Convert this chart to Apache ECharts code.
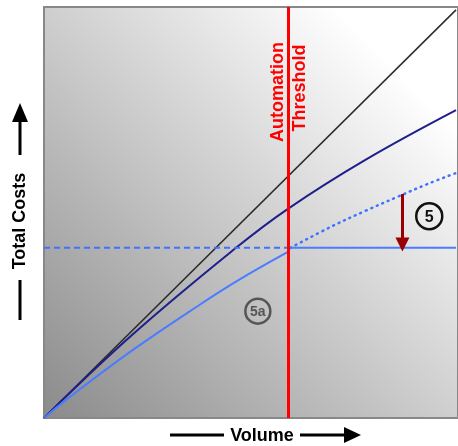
<!DOCTYPE html>
<html>
<head>
<meta charset="utf-8">
<script src="https://cdn.jsdelivr.net/npm/echarts@6/dist/echarts.min.js"></script>
<style>
  html, body { margin: 0; padding: 0; background: #fff; }
  #chart { width: 458px; height: 446px; }
</style>
</head>
<body>
<div id="chart"></div>
<script>
// 数据（坐标单位：0~100）
var thresholdX = 59.2;
var flatLevel = 41.4;

var manualX = [0, 100];
var manualY = [0, 99.3];

var currentX = [0, 21.5, 46.6, 59.2, 78, 100];
var currentY = [0, 20.3, 41.4, 50.9, 62.8, 74.9];

var automatedX = [0, 5.6, 21.5, 37.7, 47.3, 59.2];
var automatedY = [0, 4.6, 16.5, 27.5, 33.6, 40.4];

var flatX = [59.8, 100];
var flatY = [flatLevel, flatLevel];

var dashedX = [0, thresholdX];
var dashedY = [flatLevel, flatLevel];

var dottedX = [59.8, 69.8, 78, 86, 93, 100];
var dottedY = [flatLevel, 46.6, 50.4, 53.9, 56.9, 59.6];

var arrowX = 87;
var arrowTop = 54.5;
var arrowBottom = 42.2;

var circle5 = [93.5, 49.1];
var circle5a = [51.9, 26];

function pairs(xs, ys) {
    return xs.map(function (x, i) { return [x, ys[i]]; });
}

var chart = echarts.init(document.getElementById('chart'));

var option = {
    animation: false,
    grid: {
        left: 44, top: 7, width: 416, height: 411,
        show: true,
        borderColor: '#888',
        borderWidth: 2,
        backgroundColor: new echarts.graphic.LinearGradient(0, 1, 1, 0, [
            { offset: 0, color: '#8a8a8a' },
            { offset: 0.85, color: '#ffffff' },
            { offset: 1, color: '#ffffff' }
        ])
    },
    xAxis: {
        type: 'value', min: 0, max: 100.48,
        axisLine: { show: false }, axisTick: { show: false },
        axisLabel: { show: false }, splitLine: { show: false }
    },
    yAxis: {
        type: 'value', min: 0, max: 100,
        axisLine: { show: false }, axisTick: { show: false },
        axisLabel: { show: false }, splitLine: { show: false }
    },
    series: [
        {
            // 手工成本
            type: 'line', data: pairs(manualX, manualY), symbol: 'none',
            lineStyle: { color: '#2a2a2a', width: 1.5 }
        },
        {
            // 现有成本
            type: 'line', data: pairs(currentX, currentY), symbol: 'none', smooth: 0.4,
            lineStyle: { color: '#1e1e8c', width: 2 }
        },
        {
            type: 'line', data: pairs(dottedX, dottedY), symbol: 'none', smooth: 0.4,
            lineStyle: { color: '#3f72ff', width: 2.5, type: [1, 5], cap: 'round' }
        },
        {
            type: 'line', data: pairs(dashedX, dashedY), symbol: 'none',
            lineStyle: { color: '#3f72ff', width: 2, type: [6, 4] }
        },
        {
            // 自动化成本
            type: 'line', data: pairs(automatedX, automatedY), symbol: 'none', smooth: 0.4,
            lineStyle: { color: '#4a7cff', width: 2 }
        },
        {
            type: 'line', data: pairs(flatX, flatY), symbol: 'none',
            lineStyle: { color: '#4a7cff', width: 2 },
            markLine: {
                silent: true, symbol: 'none', label: { show: false },
                lineStyle: { color: '#ff0000', width: 3, type: 'solid' },
                data: [{ xAxis: thresholdX }]
            }
        },
        {
            // 下降箭头
            type: 'line', data: [], symbol: 'none',
            markLine: {
                silent: true, symbol: ['none', 'triangle'], symbolSize: [14, 14],
                label: { show: false },
                lineStyle: { color: '#990000', width: 3, type: 'solid' },
                data: [[{ coord: [arrowX, arrowTop] }, { coord: [arrowX, arrowBottom] }]]
            }
        }
    ]
};
chart.setOption(option);

var th = chart.convertToPixel({ gridIndex: 0 }, [thresholdX, 100]);
var p5 = chart.convertToPixel({ gridIndex: 0 }, circle5);
var p5a = chart.convertToPixel({ gridIndex: 0 }, circle5a);
var titleFont = 'bold 18px "Liberation Sans", Arial, sans-serif';

chart.setOption({
    graphic: [
        {
            type: 'text', x: th[0] - 10, y: 92, rotation: Math.PI / 2,
            style: { text: 'Automation', font: titleFont, fill: '#ff0000', align: 'center', verticalAlign: 'middle' }
        },
        {
            type: 'text', x: th[0] + 12, y: 88, rotation: Math.PI / 2,
            style: { text: 'Threshold', font: titleFont, fill: '#ff0000', align: 'center', verticalAlign: 'middle' }
        },
        {
            type: 'circle', shape: { cx: p5[0], cy: p5[1], r: 13 },
            style: { fill: 'none', stroke: '#111', lineWidth: 2.5 }
        },
        {
            type: 'text', x: p5[0], y: p5[1] + 1,
            style: { text: '5', font: 'bold 16px "Liberation Sans", Arial, sans-serif', fill: '#111', align: 'center', verticalAlign: 'middle' }
        },
        {
            type: 'circle', shape: { cx: p5a[0], cy: p5a[1], r: 12.5 },
            style: { fill: 'none', stroke: '#555', lineWidth: 2.5 }
        },
        {
            type: 'text', x: p5a[0], y: p5a[1] + 1,
            style: { text: '5a', font: 'bold 14px "Liberation Sans", Arial, sans-serif', fill: '#555', align: 'center', verticalAlign: 'middle' }
        },
        // Y 轴标题
        {
            type: 'text', x: 20, y: 221, rotation: Math.PI / 2,
            style: { text: 'Total Costs', font: titleFont, fill: '#000', align: 'center', verticalAlign: 'middle' }
        },
        { type: 'line', shape: { x1: 20, y1: 280, x2: 20, y2: 320 }, style: { stroke: '#000', lineWidth: 3 } },
        { type: 'line', shape: { x1: 20, y1: 155, x2: 20, y2: 120 }, style: { stroke: '#000', lineWidth: 3 } },
        { type: 'polygon', shape: { points: [[20, 103], [12, 122], [28, 122]] }, style: { fill: '#000' } },
        // X 轴标题
        {
            type: 'text', x: 262, y: 436,
            style: { text: 'Volume', font: titleFont, fill: '#000', align: 'center', verticalAlign: 'middle' }
        },
        { type: 'line', shape: { x1: 170, y1: 435, x2: 224, y2: 435 }, style: { stroke: '#000', lineWidth: 3 } },
        { type: 'line', shape: { x1: 300, y1: 435, x2: 346, y2: 435 }, style: { stroke: '#000', lineWidth: 3 } },
        { type: 'polygon', shape: { points: [[361, 435], [344, 427], [344, 443]] }, style: { fill: '#000' } }
    ]
});
</script>
</body>
</html>
